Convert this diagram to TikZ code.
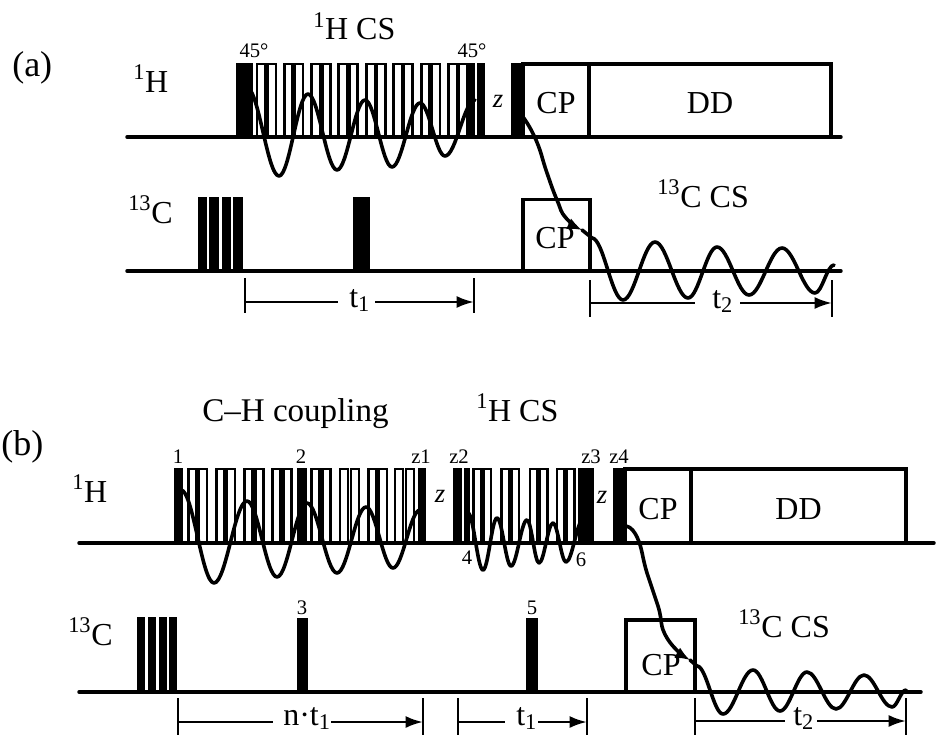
\documentclass[tikz,border=0pt]{standalone}
\usepackage{fontspec}
\setmainfont{Liberation Serif}
\usetikzlibrary{arrows.meta}
\tikzset{
  axisline/.style={line width=2.6pt,line cap=round},
  openbox/.style={draw=black,fill=white,line width=1.9pt},
  framebox/.style={draw=black,fill=white,line width=2.3pt},
  wave/.style={line width=2.7pt,line join=round,line cap=round},
  tick/.style={line width=2pt},
  span/.style={line width=2pt},
  spanarrow/.style={line width=2pt,-{Latex[length=13pt,width=9pt]}},
  big/.style={font=\fontsize{24}{26}\selectfont,anchor=base west,inner sep=0pt},
  tlabel/.style={font=\fontsize{24}{26}\selectfont,anchor=base west,inner sep=0pt},
  small/.style={font=\fontsize{15.5}{17}\selectfont,anchor=base,inner sep=0pt},
  zlabel/.style={font=\fontsize{20}{22}\selectfont\itshape,anchor=base,inner sep=0pt},
  boxlabel/.style={font=\fontsize{24}{26}\selectfont,anchor=center,inner sep=0pt},
  panel/.style={font=\fontsize{27}{29}\selectfont,anchor=base west,inner sep=0pt}
}
\newcommand{\blk}[4]{\fill (#1,#3) rectangle (#2,#4);}
% cosine half-waves through a list of extrema, starting from (#1,#2)
\newcommand{\cosw}[3]{%
  \foreach \xe/\ye [remember=\xe as \xs (initially #1), remember=\ye as \ys (initially #2)] in {#3}{
    \draw[wave] (\xs,\ys) .. controls ({\xs+0.3642*(\xe-\xs)},\ys) and ({\xe-0.3642*(\xe-\xs)},\ye) .. (\xe,\ye);
  }%
}
\begin{document}
\begin{tikzpicture}[x=0.75pt,y=-0.75pt]
\useasboundingbox (0,0) rectangle (937,735);
\fill[white] (0,0) rectangle (937,735);

% ---------- panel (a) ----------
\foreach \s in {257,284.3,311.7,338.7,366.5,393.5,421.3,448.5}{
  \draw[openbox] (\s,64) rectangle (\s+8.3,137);
  \draw[openbox] (\s+10.6,64) rectangle (\s+18.9,137);
}
\blk{236}{253}{63}{137}
\blk{468}{475}{63}{137}
\blk{477}{485}{63}{137}
\blk{511}{523}{63}{137}
\draw[framebox] (523,64) rectangle node[boxlabel,yshift=-2pt]{CP} (589,137);
\draw[framebox] (589,64) rectangle node[boxlabel,yshift=-2pt]{DD} (831,137);
\draw[axisline] (127,137) -- (841,137);

\blk{198}{207}{197}{271}
\blk{209}{218.5}{197}{271}
\blk{221.5}{230.5}{197}{271}
\blk{233}{242.5}{197}{271}
\blk{353}{370}{197}{271}
\draw[framebox] (523,199.5) rectangle (590,271);
\draw[axisline] (127,271) -- (841,271);

\cosw{247}{88}{279/176,308/94,337/170,365/100,392/167,420/103,445/156,475/100}
\draw[wave,-{Latex[length=11pt,width=9pt]}] plot[smooth,tension=0.9] coordinates{(523,117)(536,140)(547,173)(557,200)(566,218)(582,230)};
\draw[wave] (582,230) -- (592,238);
\cosw{592}{238}{623/300,655/242,688/298,717/247,749/295,782/248,815/293,834/265}

\node[panel] (la) at (12,76) {(a)};
\node[big] (hcsa) at (313,40) {\textsuperscript{1}H CS};
\node[big] (ha) at (133,92) {\textsuperscript{1}H};
\node[big] (ca) at (128,223) {\textsuperscript{13}C};
\node[big] (ccsa) at (657,207) {\textsuperscript{13}C CS};
\node[small] (d1) at (254,58) {45°};
\node[small] (d2) at (472,58) {45°};
\node[zlabel] (za) at (498,107) {z};
\node[boxlabel] (cpa) at (555,238) {CP};

\coordinate (ta1a) at (245,278); \coordinate (ta1b) at (245,313);
\coordinate (ta2a) at (474,278); \coordinate (ta2b) at (474,313);
\draw[tick] (ta1a) -- (ta1b);
\draw[tick] (ta2a) -- (ta2b);
\node[tlabel] (t1a) at (349,307) {t\textsubscript{1}};
\coordinate (a1) at (245,302); \coordinate (a2) at (338,302);
\coordinate (a3) at (375,302); \coordinate (a4) at (474,302);
\draw[span] (a1) -- (a2);
\draw[spanarrow] (a3) -- (a4);

\coordinate (tb1a) at (590,280); \coordinate (tb1b) at (590,317);
\coordinate (tb2a) at (832,280); \coordinate (tb2b) at (832,317);
\draw[tick] (tb1a) -- (tb1b);
\draw[tick] (tb2a) -- (tb2b);
\node[tlabel] (t2a) at (712,308) {t\textsubscript{2}};
\coordinate (b1) at (590,303); \coordinate (b2) at (695,303);
\coordinate (b3) at (740,303); \coordinate (b4) at (832,303);
\draw[span] (b1) -- (b2);
\draw[spanarrow] (b3) -- (b4);

% ---------- panel (b) ----------
\foreach \s in {188.3,216.3,244.5,272.7,311.7,340,368.3,395}{
  \draw[openbox] (\s,469) rectangle (\s+8,543);
  \draw[openbox] (\s+10.8,469) rectangle (\s+18.8,543);
}
\foreach \s in {473.5,501.5,530,557}{
  \draw[openbox] (\s,469) rectangle (\s+7.5,543);
  \draw[openbox] (\s+10,469) rectangle (\s+17.5,543);
}
\blk{174}{183}{468}{543}
\blk{297}{307}{468}{543}
\blk{418}{426}{468}{543}
\blk{453}{462}{468}{543}
\blk{464}{470}{468}{543}
\blk{578}{594}{468}{543}
\blk{613}{625}{468}{543}
\draw[framebox] (625,469) rectangle node[boxlabel,yshift=-2pt]{CP} (691,543);
\draw[framebox] (691,469) rectangle node[boxlabel,yshift=-2pt]{DD} (906,543);
\draw[axisline] (79,543) -- (934,543);

\blk{137}{145}{617}{692}
\blk{148}{155.5}{617}{692}
\blk{159}{167}{617}{692}
\blk{169}{177}{617}{692}
\blk{297}{308}{618}{692}
\blk{526}{538}{618}{692}
\draw[framebox] (626,620) rectangle (695,692);
\draw[axisline] (79,692) -- (921,692);

\cosw{181}{490}{214/583,247/501,277/577,307/503,337/573,366/507,393/568,420/510}
\cosw{468}{513}{483/570,497/518,511/566,527/520,539/563,553/523,566/562,583/520}
\draw[wave,-{Latex[length=11pt,width=9pt]}] plot[smooth,tension=0.9] coordinates{(625,526)(637,537)(647,573)(658,606)(667,638)(690,660)};
\draw[wave] (690,660) -- (697,666);
\cosw{697}{666}{723/714,753/670,780/711,807/672,836/709,864/675,892/707,906/690}

\node[panel] (lb) at (1,455) {(b)};
\node[big,font=\fontsize{24.8}{26}\selectfont] (chb) at (202,421) {C–H coupling};
\node[big] (hcsb) at (476,421) {\textsuperscript{1}H CS};
\node[big] (hb) at (72,502) {\textsuperscript{1}H};
\node[big] (cb) at (68,645) {\textsuperscript{13}C};
\node[big] (ccsb) at (738,637) {\textsuperscript{13}C CS};
\node[small] (n1) at (178,463) {1};
\node[small] (n2) at (301,463) {2};
\node[small] (nz1) at (421,463) {z1};
\node[small] (nz2) at (459,463) {z2};
\node[small] (nz3) at (591,463) {z3};
\node[small] (nz4) at (619,463) {z4};
\node[small] (n3) at (302,614) {3};
\node[small] (n5) at (532,614) {5};
\node[small] (n4) at (467,564) {4};
\node[small] (n6) at (581,566) {6};
\node[zlabel] (zb1) at (440,502) {z};
\node[zlabel] (zb2) at (602,503) {z};
\node[boxlabel] (cpb) at (661,665) {CP};

\coordinate (tc1a) at (178,698); \coordinate (tc1b) at (178,735);
\coordinate (tc2a) at (423,698); \coordinate (tc2b) at (423,735);
\draw[tick] (tc1a) -- (tc1b);
\draw[tick] (tc2a) -- (tc2b);
\node[tlabel] (nt) at (283,725) {n·t\textsubscript{1}};
\coordinate (c1) at (178,722); \coordinate (c2) at (273,722);
\coordinate (c3) at (331,722); \coordinate (c4) at (423,722);
\draw[span] (c1) -- (c2);
\draw[spanarrow] (c3) -- (c4);

\coordinate (td1a) at (458,698); \coordinate (td1b) at (458,735);
\coordinate (td2a) at (587,698); \coordinate (td2b) at (587,735);
\draw[tick] (td1a) -- (td1b);
\draw[tick] (td2a) -- (td2b);
\node[tlabel] (t1b) at (516,725) {t\textsubscript{1}};
\coordinate (d1p) at (458,722); \coordinate (d2p) at (505,722);
\coordinate (d3p) at (538,722); \coordinate (d4p) at (587,722);
\draw[span] (d1p) -- (d2p);
\draw[spanarrow] (d3p) -- (d4p);

\coordinate (te1a) at (695,698); \coordinate (te1b) at (695,735);
\coordinate (te2a) at (906,698); \coordinate (te2b) at (906,735);
\draw[tick] (te1a) -- (te1b);
\draw[tick] (te2a) -- (te2b);
\node[tlabel] (t2b) at (793,725) {t\textsubscript{2}};
\coordinate (e1) at (695,721); \coordinate (e2) at (785,721);
\coordinate (e3) at (817,721); \coordinate (e4) at (906,721);
\draw[span] (e1) -- (e2);
\draw[spanarrow] (e3) -- (e4);
\end{tikzpicture}
\end{document}
